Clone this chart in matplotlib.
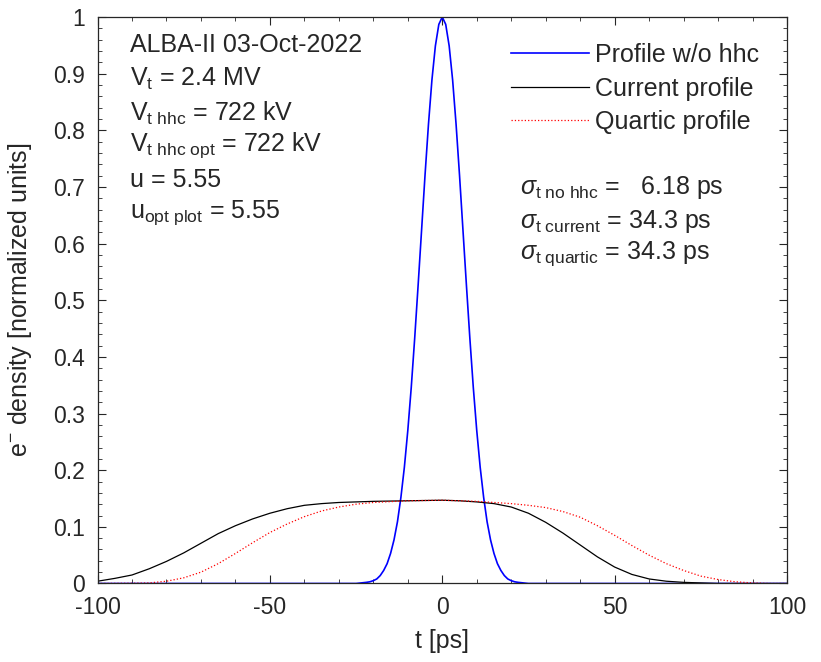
import matplotlib
matplotlib.use("Agg")
import matplotlib.pyplot as plt
from matplotlib.ticker import MultipleLocator, FormatStrFormatter

plt.rcParams['font.family'] = ['Liberation Sans', 'DejaVu Sans']
plt.rcParams['mathtext.fontset'] = 'custom'
plt.rcParams['mathtext.rm'] = 'Liberation Sans'
plt.rcParams['mathtext.it'] = 'Liberation Sans:italic'
plt.rcParams['axes.unicode_minus'] = False

# Profile without harmonic cavity
t_nohhc = [-100, -30, -25, -22, -21, -20, -19, -18, -17, -16, -15, -14, -13, -12, -11,
           -10, -9, -8, -7, -6, -5, -4, -3, -2, -1, 0, 1, 2, 3, 4, 5, 6, 7, 8, 9,
           10, 11, 12, 13, 14, 15, 16, 17, 18, 19, 20, 21, 22, 25, 30, 100]
y_nohhc = [0, 0, 0, 0.002, 0.003, 0.005, 0.008, 0.014, 0.023, 0.035, 0.053, 0.077,
           0.109, 0.152, 0.205, 0.270, 0.346, 0.433, 0.527, 0.624, 0.721, 0.811,
           0.889, 0.949, 0.987, 1.0, 0.987, 0.949, 0.889, 0.811, 0.721, 0.624,
           0.527, 0.433, 0.346, 0.270, 0.205, 0.152, 0.109, 0.077, 0.053, 0.035,
           0.023, 0.014, 0.008, 0.005, 0.003, 0.002, 0, 0, 0]

# Current profile
t_cur = [-100, -95, -90, -85, -80, -75, -70, -65, -60, -55, -50, -45, -40, -35,
         -30, -20, -10, 0, 5, 10, 15, 20, 25, 30, 35, 40, 45, 50, 55, 60, 65,
         70, 80, 100]
y_cur = [0.004, 0.009, 0.015, 0.026, 0.039, 0.054, 0.071, 0.088, 0.102, 0.114,
         0.124, 0.132, 0.138, 0.141, 0.143, 0.145, 0.146, 0.147, 0.146, 0.144,
         0.141, 0.135, 0.124, 0.108, 0.089, 0.068, 0.047, 0.029, 0.016, 0.008,
         0.004, 0.002, 0.0, 0.0]

# Quartic profile
t_qua = [-100, -90, -85, -80, -75, -70, -65, -60, -55, -50, -45, -40, -35, -30,
         -25, -20, -10, 0, 10, 20, 25, 30, 35, 40, 45, 50, 55, 60, 65, 70, 75,
         80, 85, 90, 95, 100]
y_qua = [0, 0.0005, 0.001, 0.004, 0.010, 0.020, 0.035, 0.053, 0.072, 0.090,
         0.105, 0.118, 0.128, 0.135, 0.140, 0.143, 0.146, 0.147, 0.145, 0.141,
         0.138, 0.134, 0.127, 0.117, 0.102, 0.085, 0.067, 0.050, 0.035, 0.023,
         0.013, 0.007, 0.003, 0.001, 0, 0]

info_left = ['ALBA-II 03-Oct-2022',
             r'V$_{\rm t}$ = 2.4 MV',
             r'V$_{\rm t\ hhc}$ = 722 kV',
             r'V$_{\rm t\ hhc\ opt}$ = 722 kV',
             'u = 5.55',
             r'u$_{\rm opt\ plot}$ = 5.55']
info_left_y = [0.95, 0.89, 0.83, 0.773, 0.713, 0.655]

info_right = [r'$\sigma_{\rm t\ no\ hhc}$ =   6.18 ps',
              r'$\sigma_{\rm t\ current}$ = 34.3 ps',
              r'$\sigma_{\rm t\ quartic}$ = 34.3 ps']
info_right_y = [0.699, 0.639, 0.582]

dark = '#262626'

fig = plt.figure(figsize=(8.21, 6.62), dpi=100)
ax = fig.add_axes([0.1188, 0.1186, 0.8398, 0.8557])

ax.plot(t_nohhc, y_nohhc, color='blue', linewidth=1.2, label='Profile w/o hhc')
ax.plot(t_cur, y_cur, color='black', linewidth=0.9, label='Current profile')
ax.plot(t_qua, y_qua, color='red', linewidth=0.9, linestyle=':', label='Quartic profile')

ax.set_xlim(-100, 100)
ax.set_ylim(0, 1)
ax.xaxis.set_major_locator(MultipleLocator(50))
ax.xaxis.set_minor_locator(MultipleLocator(10))
ax.yaxis.set_major_locator(MultipleLocator(0.1))
ax.yaxis.set_minor_locator(MultipleLocator(0.02))
ax.yaxis.set_major_formatter(FormatStrFormatter('%g'))
ax.tick_params(which='both', direction='in', top=True, right=True,
               colors=dark, labelsize=16.5)
ax.tick_params(which='major', length=6, pad=9)
ax.tick_params(which='minor', length=3)
for sp in ax.spines.values():
    sp.set_color(dark)
    sp.set_linewidth(0.9)

ax.set_xlabel('t [ps]', fontsize=18, color=dark, labelpad=7)
ax.set_ylabel(r'e$^{-}$ density [normalized units]', fontsize=18, color=dark, labelpad=14)

for s, yy in zip(info_left, info_left_y):
    ax.text(-90.5, yy, s, fontsize=18, va='center', ha='left', color=dark)
for s, yy in zip(info_right, info_right_y):
    ax.text(22.5, yy, s, fontsize=18, va='center', ha='left', color=dark)

leg = ax.legend(loc='upper right', bbox_to_anchor=(0.985, 0.985), frameon=False,
                fontsize=18, handlelength=3.1, handletextpad=0.25,
                labelspacing=0.38, borderaxespad=0.3)
for txt in leg.get_texts():
    txt.set_color(dark)

fig.savefig('out.png', dpi=100)
